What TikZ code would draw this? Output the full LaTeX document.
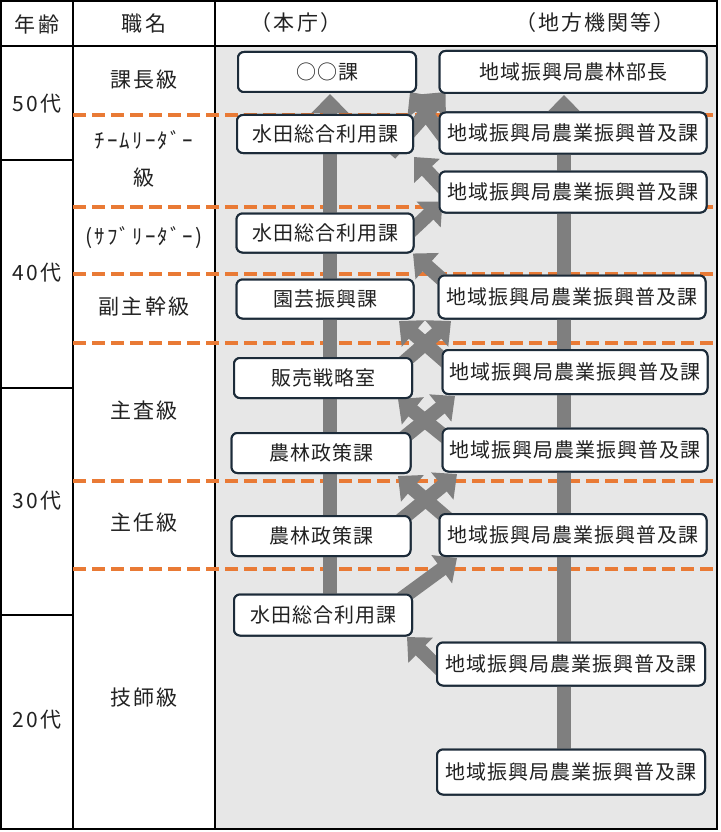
\documentclass[tikz,border=0pt]{standalone}
\usepackage{fontspec}
\setmainfont{Noto Sans CJK JP}
\newfontfamily\boxfont[LetterSpace=5]{Noto Sans CJK JP}
\newfontfamily\labfont[LetterSpace=10]{Noto Sans CJK JP}
\usetikzlibrary{arrows.meta,calc}
\definecolor{dashor}{HTML}{E97A35}
\definecolor{bggray}{HTML}{E7E7E7}
\definecolor{arrgray}{HTML}{7F7F7F}
\definecolor{boxline}{HTML}{1C2B39}
\definecolor{txt}{HTML}{222222}
\begin{document}
\begin{tikzpicture}[x=1pt,y=-1pt,
  card/.style={draw=boxline, line width=2pt, fill=white, rounded corners=6pt, inner sep=0pt,
    font=\boxfont\fontsize{20}{24}\selectfont, text=txt},
  lab/.style={inner sep=0pt, font=\labfont\fontsize{21}{25}\selectfont, text=txt},
  bigarrow/.style={draw=arrgray, line width=14pt, -{Triangle[width=34pt,length=19pt]}},
  rowdash/.style={draw=dashor, line width=4pt, dash pattern=on 13pt off 6pt},
  gridline/.style={draw=black, line width=2pt},
  thingrid/.style={draw=black, line width=1.3pt}]
\useasboundingbox (0,0) rectangle (720,832);
\fill[white] (0,0) rectangle (720,832);
\fill[bggray] (215,46) rectangle (717,828);
% grid
\draw[gridline] (1,1) rectangle (717,829);
\draw[gridline] (73,1) -- (73,829);
\draw[gridline] (215,1) -- (215,829);
\draw[gridline] (1,46) -- (717,46);
\draw[gridline] (1,160) -- (73,160);
\draw[thingrid] (1,388) -- (73,388);
\draw[thingrid] (1,615) -- (73,615);
% dashed rows
\foreach \yy in {115,207,274,343,481,569}
  \draw[rowdash] (73,\yy) -- (718,\yy);
% headers and labels
\node[lab] (h1) at (37,24) {年齢};
\node[lab] (h2) at (144,24) {職名};
\node[lab] (h3) at (296,23) {（本庁）};
\node[lab] (h4) at (595,23) {（地方機関等）};
\node[lab] (a50) at (37,104) {50代};
\node[lab] (a40) at (37,273) {40代};
\node[lab] (a30) at (37,501) {30代};
\node[lab] (a20) at (37,720) {20代};
\node[lab] (g1) at (144,80) {課長級};
\node[lab] (g2) at (144,140) {ﾁｰﾑﾘｰﾀﾞｰ};
\node[lab] (g2b) at (144,178) {級};
\node[lab] (g3) at (144,238) {(ｻﾌﾞﾘｰﾀﾞｰ)};
\node[lab] (g4) at (144,307) {副主幹級};
\node[lab] (g5) at (144,411) {主査級};
\node[lab] (g6) at (144,523) {主任級};
\node[lab] (g7) at (144,698) {技師級};
% boxes (placed first so that the arrows can refer to them)
\path
  node[card, minimum width=178pt, minimum height=40pt] (L1) at (327,72) {○○課}
  node[card, minimum width=176pt, minimum height=38pt] (L2) at (325,134) {水田総合利用課}
  node[card, minimum width=177pt, minimum height=39pt] (L3) at (325,233) {水田総合利用課}
  node[card, minimum width=177pt, minimum height=39pt] (L4) at (325,299) {園芸振興課}
  node[card, minimum width=178pt, minimum height=40pt] (L5) at (323,378) {販売戦略室}
  node[card, minimum width=179pt, minimum height=40pt] (L6) at (321,453) {農林政策課}
  node[card, minimum width=179pt, minimum height=40pt] (L7) at (321,536) {農林政策課}
  node[card, minimum width=178pt, minimum height=41pt] (L8) at (323,615) {水田総合利用課}
  node[card, minimum width=267pt, minimum height=42pt] (R1) at (573,72) {地域振興局農林部長}
  node[card, minimum width=267pt, minimum height=41pt] (R2) at (573,133) {地域振興局農業振興普及課}
  node[card, minimum width=267pt, minimum height=41pt] (R3) at (573,192) {地域振興局農業振興普及課}
  node[card, minimum width=267pt, minimum height=43pt] (R4) at (572,297) {地域振興局農業振興普及課}
  node[card, minimum width=265pt, minimum height=44pt] (R5) at (575,372) {地域振興局農業振興普及課}
  node[card, minimum width=265pt, minimum height=43pt] (R6) at (575,450) {地域振興局農業振興普及課}
  node[card, minimum width=267pt, minimum height=42pt] (R7) at (573,535) {地域振興局農業振興普及課}
  node[card, minimum width=268pt, minimum height=43pt] (R8) at (571,664) {地域振興局農業振興普及課}
  node[card, minimum width=268pt, minimum height=45pt] (R9) at (571,772) {地域振興局農業振興普及課};
% arrows
\draw[bigarrow, -{Triangle[width=36pt,length=19pt]}] ($(L8.north)+(7,5)$) -- ($(L1.south)+(3,1)$);
\draw[bigarrow, -{Triangle[width=36pt,length=19pt]}] ($(R9.north)+(-7,5)$) -- ($(R1.south)+(-9,1)$);
\draw[bigarrow] ($(L2.south east)+(-24,0)$) -- ($(R1.south west)+(7,-2)$);
\draw[bigarrow] ($(R2.west)+(15,17)$) -- ($(L1.south east)+(-7,-1)$);
\draw[bigarrow] ($(R3.west)+(12,4)$) -- ($(L2.south east)+(0,3)$);
\draw[bigarrow] ($(L3.east)+(-12,6)$) -- ($(R3.south west)+(4,-12)$);
\draw[bigarrow] ($(R4.west)+(16.5,-7)$) -- ($(L3.south east)+(-1.5,0)$);
\draw[bigarrow] ($(L5.north east)+(-17,12)$) -- ($(R4.south west)+(13.5,1.5)$);
\draw[bigarrow] ($(R5.north west)+(12.5,20)$) -- ($(L4.south east)+(-15.5,1.5)$);
\draw[bigarrow] ($(L6.north east)+(-15.5,12)$) -- ($(R5.south west)+(13.5,1)$);
\draw[bigarrow] ($(R6.north west)+(12.5,16.5)$) -- ($(L5.south east)+(-15,0)$);
\draw[bigarrow] ($(L7.north east)+(-15.5,9)$) -- ($(R6.south west)+(15.5,1.5)$);
\draw[bigarrow] ($(R7.north west)+(15.5,11)$) -- ($(L6.south east)+(-13.5,2)$);
\draw[bigarrow] ($(L8.north east)+(-12,5.5)$) -- ($(R7.south west)+(18.5,1)$);
\draw[bigarrow] ($(R8.west)+(13,14)$) -- ($(L8.south east)+(-6,0.5)$);
% boxes again on top of the arrows
\path
  node[card, minimum width=178pt, minimum height=40pt] at (L1) {○○課}
  node[card, minimum width=176pt, minimum height=38pt] at (L2) {水田総合利用課}
  node[card, minimum width=177pt, minimum height=39pt] at (L3) {水田総合利用課}
  node[card, minimum width=177pt, minimum height=39pt] at (L4) {園芸振興課}
  node[card, minimum width=178pt, minimum height=40pt] at (L5) {販売戦略室}
  node[card, minimum width=179pt, minimum height=40pt] at (L6) {農林政策課}
  node[card, minimum width=179pt, minimum height=40pt] at (L7) {農林政策課}
  node[card, minimum width=178pt, minimum height=41pt] at (L8) {水田総合利用課}
  node[card, minimum width=267pt, minimum height=42pt] at (R1) {地域振興局農林部長}
  node[card, minimum width=267pt, minimum height=41pt] at (R2) {地域振興局農業振興普及課}
  node[card, minimum width=267pt, minimum height=41pt] at (R3) {地域振興局農業振興普及課}
  node[card, minimum width=267pt, minimum height=43pt] at (R4) {地域振興局農業振興普及課}
  node[card, minimum width=265pt, minimum height=44pt] at (R5) {地域振興局農業振興普及課}
  node[card, minimum width=265pt, minimum height=43pt] at (R6) {地域振興局農業振興普及課}
  node[card, minimum width=267pt, minimum height=42pt] at (R7) {地域振興局農業振興普及課}
  node[card, minimum width=268pt, minimum height=43pt] at (R8) {地域振興局農業振興普及課}
  node[card, minimum width=268pt, minimum height=45pt] at (R9) {地域振興局農業振興普及課};
\end{tikzpicture}
\end{document}
